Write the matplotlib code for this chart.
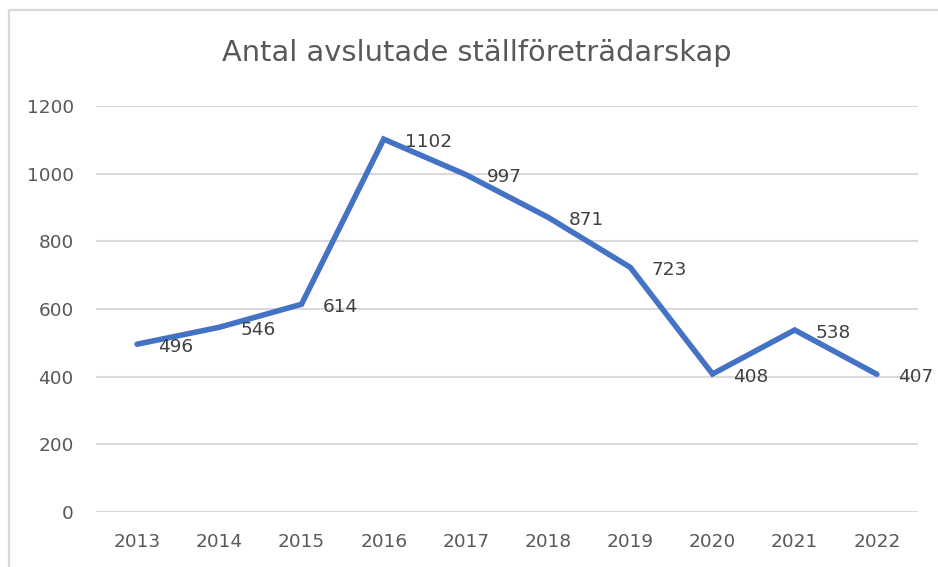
import matplotlib
matplotlib.use("Agg")
import matplotlib.pyplot as plt
from matplotlib.lines import Line2D

years = ["2013", "2014", "2015", "2016", "2017", "2018", "2019", "2020", "2021", "2022"]
values = [496, 546, 614, 1102, 997, 871, 723, 408, 538, 407]
yticks = [0, 200, 400, 600, 800, 1000, 1200]
title = "Antal avslutade ställföreträdarskap"

W, H = 938, 567
fig = plt.figure(figsize=(W / 100, H / 100), dpi=100)
plt.rcParams['font.family'] = ['DejaVu Sans']

ax = fig.add_axes([96 / W, 1 - 512 / H, (918 - 96) / W, (512 - 106) / H])
x = list(range(len(years)))
ax.plot(x, values, color="#4472C4", linewidth=4.0, solid_capstyle="round",
        solid_joinstyle="miter", zorder=3)
for xi, v in zip(x, values):
    ax.annotate(str(v), (xi, v), xytext=(15, -2), textcoords="offset points",
                ha="left", va="center", fontsize=13.3, color="#404040", zorder=4)

ax.set_xlim(-0.5, len(years) - 0.5)
ax.set_ylim(0, 1200)
ax.set_yticks(yticks)
ax.set_yticklabels([str(t) for t in yticks])
ax.set_xticks(x)
ax.set_xticklabels(years)
ax.tick_params(axis="both", length=0, labelsize=13.3, labelcolor="#595959")
ax.tick_params(axis="y", pad=16)
ax.tick_params(axis="x", pad=15)
ax.grid(axis="y", color="#D9D9D9", linewidth=1.5)
ax.set_axisbelow(True)
for s in ax.spines.values():
    s.set_visible(False)

fig.text(477 / W, 1 - 53 / H, title, ha="center", va="center", fontsize=20.8,
         color="#595959")

# chart border (left and top visible)
fig.add_artist(Line2D([9 / W, 9 / W, 1.01], [-0.01, 1 - 10 / H, 1 - 10 / H],
                      transform=fig.transFigure, color="#D9D9D9", linewidth=1.6))

fig.savefig("out.png", dpi=100)
